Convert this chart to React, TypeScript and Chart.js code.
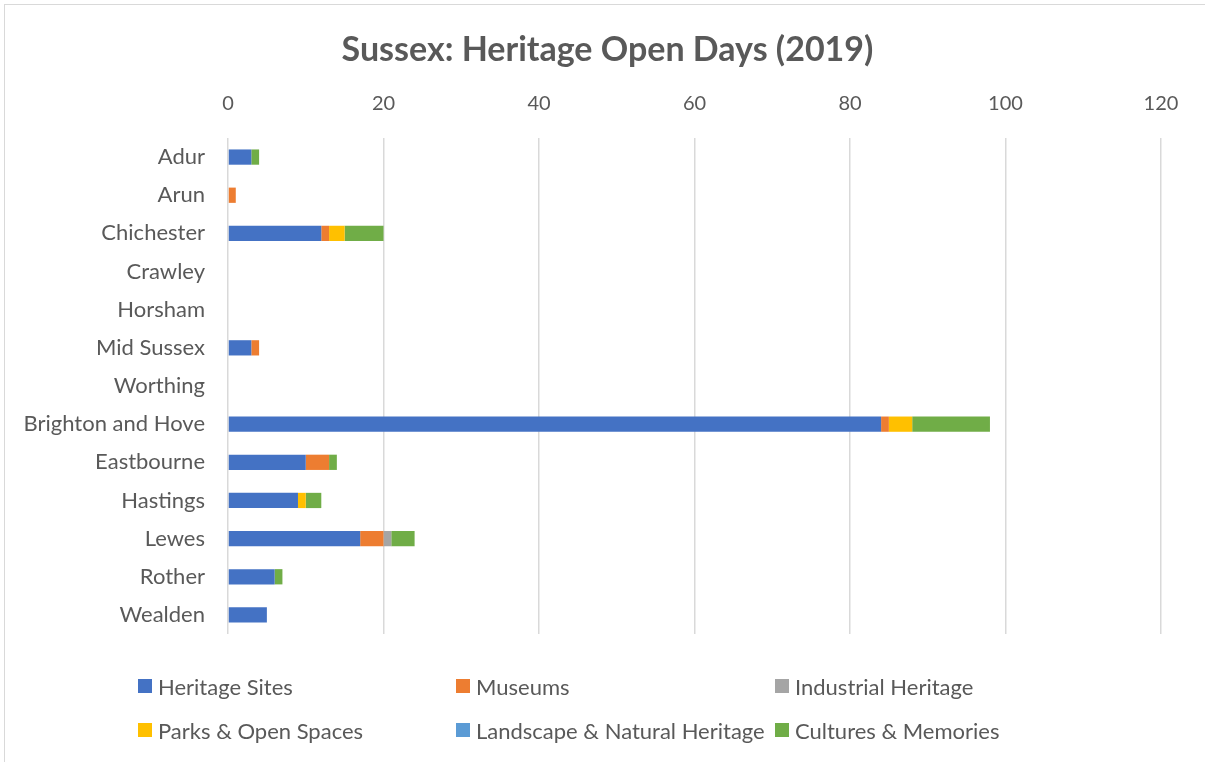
import React, { useEffect, useRef } from "react";
import { Chart, registerables } from "chart.js";

Chart.register(...registerables);

const categories = [
  "Adur",
  "Arun",
  "Chichester",
  "Crawley",
  "Horsham",
  "Mid Sussex",
  "Worthing",
  "Brighton and Hove",
  "Eastbourne",
  "Hastings",
  "Lewes",
  "Rother",
  "Wealden",
];

const seriesNames = [
  "Heritage Sites",
  "Museums",
  "Industrial Heritage",
  "Parks & Open Spaces",
  "Landscape & Natural Heritage",
  "Cultures & Memories",
];

const seriesColors = ["#4472C4", "#ED7D31", "#A5A5A5", "#FFC000", "#5B9BD5", "#70AD47"];

const heritageSites = [3, 0, 12, 0, 0, 3, 0, 84, 10, 9, 17, 6, 5];
const museums = [0, 1, 1, 0, 0, 1, 0, 1, 3, 0, 3, 0, 0];
const industrialHeritage = [0, 0, 0, 0, 0, 0, 0, 0, 0, 0, 1, 0, 0];
const parksOpenSpaces = [0, 0, 2, 0, 0, 0, 0, 3, 0, 1, 0, 0, 0];
const landscapeNatural = [0, 0, 0, 0, 0, 0, 0, 0, 0, 0, 0, 0, 0];
const culturesMemories = [1, 0, 5, 0, 0, 0, 0, 10, 1, 2, 3, 1, 0];

const seriesValues = [
  heritageSites,
  museums,
  industrialHeritage,
  parksOpenSpaces,
  landscapeNatural,
  culturesMemories,
];

const xTicks = [0, 20, 40, 60, 80, 100, 120];

const TITLE = "Sussex: Heritage Open Days (2019)";
const FONT = "Lato, 'Liberation Sans', sans-serif";
const TEXT = "#595959";

// legend layout (3 columns x 2 rows)
const legendCols = [138, 456, 775];
const legendRows = [686, 730];

const centeredTitle = {
  id: "centeredTitle",
  afterDraw(chart: any) {
    const ctx = chart.ctx;
    ctx.save();
    ctx.font = `bold 34px ${FONT}`;
    ctx.fillStyle = TEXT;
    ctx.textAlign = "center";
    ctx.textBaseline = "middle";
    ctx.fillText(TITLE, chart.width / 2 + 5, 50);
    ctx.restore();
  },
};

export default function App() {
  const ref = useRef<HTMLCanvasElement | null>(null);

  useEffect(() => {
    const canvas = ref.current;
    if (!canvas) return;
    const chart = new Chart(canvas, {
      type: "bar",
      data: {
        labels: categories,
        datasets: seriesNames.map((name, i) => ({
          label: name,
          data: seriesValues[i],
          backgroundColor: seriesColors[i],
          borderWidth: 0,
          categoryPercentage: 1,
          barPercentage: 0.4,
        })),
      },
      options: {
        indexAxis: "y",
        responsive: false,
        animation: false,
        layout: { padding: { left: 0, right: 44, top: 70, bottom: 128 } },
        plugins: {
          legend: { display: false },
          tooltip: { enabled: false },
          title: { display: false },
        },
        scales: {
          x: {
            position: "top",
            stacked: true,
            min: 0,
            max: 120,
            afterBuildTicks: (scale: any) => {
              scale.ticks = xTicks.map((v) => ({ value: v }));
            },
            ticks: {
              color: TEXT,
              font: { family: FONT, size: 20 },
              padding: 22,
            },
            grid: { color: "#D9D9D9", lineWidth: 1.5, drawTicks: false },
            border: { display: false },
          },
          y: {
            stacked: true,
            afterFit: (scale: any) => {
              scale.width = 228;
            },
            ticks: {
              color: TEXT,
              font: { family: FONT, size: 22 },
              padding: 23,
            },
            grid: { display: false, drawTicks: false },
            border: { display: false },
          },
        },
      },
      plugins: [centeredTitle],
    });
    return () => chart.destroy();
  }, []);

  return (
    <div
      style={{
        position: "absolute",
        left: 0,
        top: 0,
        width: 1205,
        height: 762,
        background: "#fff",
        overflow: "hidden",
      }}
    >
      <div
        style={{
          position: "absolute",
          left: 4,
          top: 4,
          width: 1210,
          height: 770,
          border: "1px solid #D9D9D9",
        }}
      />
      <canvas ref={ref} width={1205} height={762} style={{ position: "absolute", left: 0, top: 0 }} />
      {seriesNames.map((name, i) => {
        const col = legendCols[i % 3];
        const row = legendRows[Math.floor(i / 3)];
        return (
          <div
            key={name}
            style={{
              position: "absolute",
              left: col,
              top: row - 13,
              height: 26,
              display: "flex",
              alignItems: "center",
              fontFamily: FONT,
              fontSize: 22,
              color: TEXT,
              whiteSpace: "nowrap",
            }}
          >
            <span
              style={{
                display: "inline-block",
                width: 14,
                height: 14,
                background: seriesColors[i],
                marginRight: 6,
              }}
            />
            {name}
          </div>
        );
      })}
    </div>
  );
}
